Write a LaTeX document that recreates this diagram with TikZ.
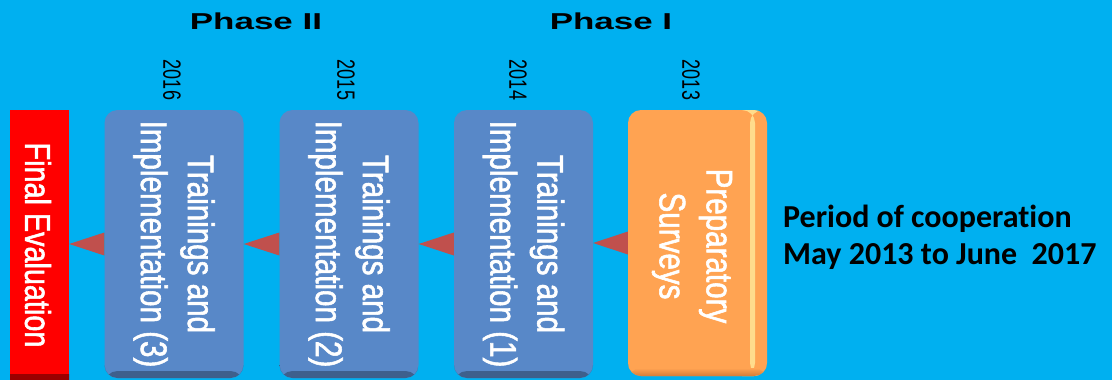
\documentclass[tikz,border=0pt]{standalone}
\usepackage{fontspec}
\setmainfont{Liberation Sans}
\newfontfamily\narrowfont[FakeStretch=0.8,FakeBold=1.5]{Liberation Sans}
\newfontfamily\yearfont[FakeStretch=0.72]{Liberation Sans}
\newfontfamily\phasefont[FakeStretch=1.52]{Liberation Sans Bold}
\newfontfamily\periodfont[Ligatures={NoCommon,NoRequired,NoContextual}]{Carlito Bold}
\definecolor{bgblue}{RGB}{0,176,240}
\definecolor{boxblue}{RGB}{88,136,200}
\definecolor{boxorange}{RGB}{255,163,82}
\definecolor{stripe}{RGB}{255,220,140}
\definecolor{orangedark}{RGB}{214,124,56}
\definecolor{arrowred}{RGB}{192,80,77}
\tikzset{
  redbar/.style={fill=red, minimum width=59pt, minimum height=270pt, inner sep=0pt,
    path picture={\shade[top color=red, bottom color=red!60!black]
      ([yshift=6pt]path picture bounding box.south west) rectangle (path picture bounding box.south east);}},
  bluebox/.style={fill=boxblue, rounded corners=13pt, minimum width=139pt, minimum height=268pt, inner sep=0pt,
    path picture={\shade[top color=boxblue, bottom color=boxblue!70!black]
      ([yshift=7pt]path picture bounding box.south west) rectangle (path picture bounding box.south east);}},
  orangebox/.style={fill=boxorange, rounded corners=13pt, minimum width=139pt, minimum height=266pt, inner sep=0pt,
    path picture={
      \fill[stripe] ([xshift=-17pt]path picture bounding box.north east) rectangle ([xshift=-12pt]path picture bounding box.south east);
      \shade[top color=boxorange, bottom color=orangedark]
      ([yshift=8pt]path picture bounding box.south west) rectangle (path picture bounding box.south east);}},
  boxtext/.style={rotate=-90, text=white, align=center, inner sep=0pt,
    font=\narrowfont\fontsize{37}{47}\selectfont},
  yeartext/.style={rotate=-90, text=black, inner sep=0pt, font=\yearfont\fontsize{25}{30}\selectfont},
  phasetext/.style={text=black, inner sep=0pt, font=\phasefont\fontsize{23}{28}\selectfont},
  periodtext/.style={text=black, inner sep=0pt, anchor=base west, font=\periodfont\fontsize{32}{36}\selectfont},
  pointer/.style={fill=arrowred}
}
\begin{document}
\begin{tikzpicture}[x=1pt,y=-1pt]
\fill[bgblue] (0,0) rectangle (1112,380);
\useasboundingbox (0,0) rectangle (1112,380);

\node[redbar] (fe) at (39.5,245) {};
\node[bluebox] (b1) at (174,244) {};
\node[bluebox] (b2) at (349,244) {};
\node[bluebox] (b3) at (523.5,244) {};
\node[orangebox] (ps) at (697.5,243) {};

\node[boxtext, font=\narrowfont\fontsize{36}{44}\selectfont] (fet) at (38,245) {Final Evaluation};
\node[boxtext] (t1) at (b1.center) {Trainings and\\Implementation (3)};
\node[boxtext] (t2) at (b2.center) {Trainings and\\Implementation (2)};
\node[boxtext] (t3) at (b3.center) {Trainings and\\Implementation (1)};
\node[boxtext] (t4) at (692,246) {Preparatory\\Surveys};

\fill[pointer] (fe.east |- b1.west) -- ([yshift=11.5pt]b1.west) -- ([yshift=-11.5pt]b1.west) -- cycle;
\fill[pointer] (b1.east |- b2.west) -- ([yshift=11.5pt]b2.west) -- ([yshift=-11.5pt]b2.west) -- cycle;
\fill[pointer] (b2.east |- b3.west) -- ([yshift=11.5pt]b3.west) -- ([yshift=-11.5pt]b3.west) -- cycle;
\fill[pointer] (b3.east |- ps.west) -- ([yshift=11.5pt]ps.west) -- ([yshift=-11.5pt]ps.west) -- cycle;

\node[yeartext] (y1) at (172,80) {2016};
\node[yeartext] (y2) at (346,80) {2015};
\node[yeartext] (y3) at (518,80) {2014};
\node[yeartext] (y4) at (691,80) {2013};

\node[phasetext] (p2) at (256,21) {Phase II};
\node[phasetext] (p1) at (611,21) {Phase I};

\node[periodtext] (l1) at (783,227) {Period of cooperation};
\node[periodtext] (l2) at (783,264) {May 2013 to June\ \ 2017};
\end{tikzpicture}
\end{document}
